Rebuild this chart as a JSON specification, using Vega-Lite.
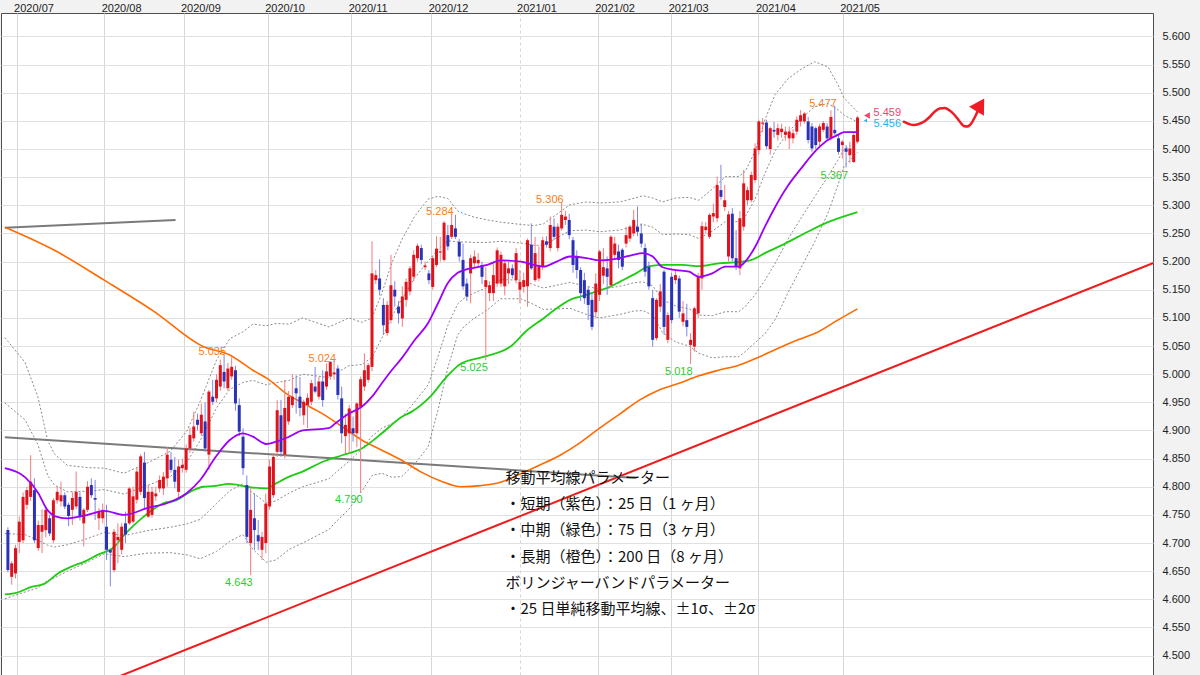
{
"$schema": "https://vega.github.io/schema/vega-lite/v6.json",
"width": 1152, "height": 662,
"autosize": {"type": "none"},
"padding": {"left": 1, "top": 13, "right": 47, "bottom": 0},
"background": "#f2f2f2",
"config": {"view": {"fill": "#ffffff", "stroke": "#4d4d4d", "strokeWidth": 1}, "font": "Liberation Sans"},
"datasets": {
"candles": [
{"k":0,"o":4.723,"h":4.728,"l":4.648,"c":4.652},{"k":1,"o":4.640,"h":4.668,"l":4.626,"c":4.664},{"k":2,"o":4.646,"h":4.697,"l":4.637,"c":4.691},{"k":3,"o":4.702,"h":4.747,"l":4.682,"c":4.738},{"k":4,"o":4.705,"h":4.790,"l":4.700,"c":4.782},{"k":5,"o":4.768,"h":4.800,"l":4.760,"c":4.794},{"k":6,"o":4.782,"h":4.856,"l":4.775,"c":4.809},{"k":7,"o":4.794,"h":4.815,"l":4.700,"c":4.705},{"k":8,"o":4.691,"h":4.740,"l":4.686,"c":4.732},{"k":9,"o":4.720,"h":4.760,"l":4.682,"c":4.732},
{"k":10,"o":4.723,"h":4.765,"l":4.710,"c":4.759},{"k":11,"o":4.744,"h":4.750,"l":4.712,"c":4.717},{"k":12,"o":4.705,"h":4.780,"l":4.700,"c":4.776},{"k":13,"o":4.776,"h":4.800,"l":4.770,"c":4.791},{"k":14,"o":4.774,"h":4.809,"l":4.765,"c":4.785},{"k":15,"o":4.785,"h":4.790,"l":4.760,"c":4.765},{"k":16,"o":4.768,"h":4.772,"l":4.730,"c":4.748},{"k":17,"o":4.759,"h":4.790,"l":4.732,"c":4.780},{"k":18,"o":4.765,"h":4.827,"l":4.760,"c":4.791},{"k":19,"o":4.782,"h":4.790,"l":4.740,"c":4.747},
{"k":20,"o":4.735,"h":4.762,"l":4.694,"c":4.759},{"k":21,"o":4.759,"h":4.810,"l":4.755,"c":4.800},{"k":22,"o":4.803,"h":4.815,"l":4.780,"c":4.785},{"k":23,"o":4.780,"h":4.812,"l":4.741,"c":4.777},{"k":24,"o":4.744,"h":4.762,"l":4.723,"c":4.756},{"k":25,"o":4.744,"h":4.770,"l":4.735,"c":4.759},{"k":26,"o":4.729,"h":4.768,"l":4.670,"c":4.688},{"k":27,"o":4.688,"h":4.690,"l":4.623,"c":4.683},{"k":28,"o":4.652,"h":4.725,"l":4.648,"c":4.720},{"k":29,"o":4.705,"h":4.735,"l":4.664,"c":4.711},
{"k":30,"o":4.688,"h":4.735,"l":4.680,"c":4.729},{"k":31,"o":4.735,"h":4.756,"l":4.700,"c":4.715},{"k":32,"o":4.735,"h":4.800,"l":4.732,"c":4.797},{"k":33,"o":4.738,"h":4.800,"l":4.735,"c":4.783},{"k":34,"o":4.777,"h":4.835,"l":4.770,"c":4.827},{"k":35,"o":4.791,"h":4.858,"l":4.785,"c":4.854},{"k":36,"o":4.843,"h":4.862,"l":4.759,"c":4.780},{"k":37,"o":4.747,"h":4.803,"l":4.745,"c":4.791},{"k":38,"o":4.750,"h":4.800,"l":4.745,"c":4.791},{"k":39,"o":4.783,"h":4.800,"l":4.775,"c":4.788},
{"k":40,"o":4.797,"h":4.820,"l":4.790,"c":4.812},{"k":41,"o":4.797,"h":4.826,"l":4.785,"c":4.818},{"k":42,"o":4.815,"h":4.870,"l":4.800,"c":4.857},{"k":43,"o":4.848,"h":4.862,"l":4.825,"c":4.830},{"k":44,"o":4.830,"h":4.853,"l":4.797,"c":4.809},{"k":45,"o":4.791,"h":4.848,"l":4.780,"c":4.836},{"k":46,"o":4.833,"h":4.850,"l":4.825,"c":4.839},{"k":47,"o":4.830,"h":4.875,"l":4.825,"c":4.868},{"k":48,"o":4.868,"h":4.905,"l":4.860,"c":4.892},{"k":49,"o":4.886,"h":4.933,"l":4.880,"c":4.907},
{"k":50,"o":4.919,"h":4.930,"l":4.900,"c":4.910},{"k":51,"o":4.895,"h":4.948,"l":4.890,"c":4.928},{"k":52,"o":4.916,"h":4.950,"l":4.862,"c":4.868},{"k":53,"o":4.857,"h":4.972,"l":4.830,"c":4.969},{"k":54,"o":4.960,"h":4.990,"l":4.945,"c":4.951},{"k":55,"o":4.957,"h":5.000,"l":4.950,"c":4.990},{"k":56,"o":4.978,"h":5.026,"l":4.970,"c":5.016},{"k":57,"o":5.004,"h":5.035,"l":4.975,"c":4.987},{"k":58,"o":4.975,"h":5.020,"l":4.970,"c":5.010},{"k":59,"o":4.996,"h":5.030,"l":4.990,"c":5.013},
{"k":60,"o":5.007,"h":5.015,"l":4.935,"c":4.948},{"k":61,"o":4.945,"h":4.957,"l":4.890,"c":4.898},{"k":62,"o":4.889,"h":4.904,"l":4.821,"c":4.833},{"k":63,"o":4.803,"h":4.820,"l":4.700,"c":4.711},{"k":64,"o":4.700,"h":4.797,"l":4.643,"c":4.759},{"k":65,"o":4.744,"h":4.788,"l":4.688,"c":4.723},{"k":66,"o":4.714,"h":4.741,"l":4.688,"c":4.703},{"k":67,"o":4.688,"h":4.720,"l":4.670,"c":4.711},{"k":68,"o":4.700,"h":4.788,"l":4.682,"c":4.770},{"k":69,"o":4.765,"h":4.848,"l":4.759,"c":4.836},
{"k":70,"o":4.785,"h":4.860,"l":4.780,"c":4.853},{"k":71,"o":4.862,"h":4.954,"l":4.853,"c":4.936},{"k":72,"o":4.927,"h":4.954,"l":4.853,"c":4.862},{"k":73,"o":4.857,"h":4.990,"l":4.850,"c":4.940},{"k":74,"o":4.916,"h":4.970,"l":4.910,"c":4.960},{"k":75,"o":4.945,"h":5.000,"l":4.940,"c":4.960},{"k":76,"o":4.975,"h":4.998,"l":4.930,"c":4.966},{"k":77,"o":4.960,"h":4.995,"l":4.925,"c":4.940},{"k":78,"o":4.927,"h":4.955,"l":4.910,"c":4.951},{"k":79,"o":4.945,"h":4.966,"l":4.904,"c":4.958},
{"k":80,"o":4.951,"h":4.990,"l":4.945,"c":4.984},{"k":81,"o":4.978,"h":5.013,"l":4.966,"c":4.969},{"k":82,"o":4.960,"h":4.995,"l":4.955,"c":4.987},{"k":83,"o":4.987,"h":5.007,"l":4.942,"c":4.954},{"k":84,"o":4.978,"h":5.019,"l":4.972,"c":5.005},{"k":85,"o":4.996,"h":5.023,"l":4.990,"c":5.022},{"k":86,"o":5.000,"h":5.024,"l":4.990,"c":5.003},{"k":87,"o":5.010,"h":5.016,"l":4.955,"c":4.963},{"k":88,"o":4.957,"h":4.978,"l":4.877,"c":4.895},{"k":89,"o":4.890,"h":4.930,"l":4.859,"c":4.910},
{"k":90,"o":4.895,"h":4.945,"l":4.859,"c":4.939},{"k":91,"o":4.904,"h":4.925,"l":4.880,"c":4.895},{"k":92,"o":4.895,"h":4.950,"l":4.870,"c":4.948},{"k":93,"o":4.942,"h":4.996,"l":4.790,"c":4.991},{"k":94,"o":4.978,"h":5.037,"l":4.970,"c":5.007},{"k":95,"o":4.990,"h":5.020,"l":4.985,"c":5.016},{"k":96,"o":5.013,"h":5.236,"l":5.005,"c":5.179},{"k":97,"o":5.167,"h":5.185,"l":5.160,"c":5.176},{"k":98,"o":5.170,"h":5.204,"l":5.140,"c":5.150},{"k":99,"o":5.123,"h":5.135,"l":5.070,"c":5.087},
{"k":100,"o":5.073,"h":5.130,"l":5.068,"c":5.123},{"k":101,"o":5.096,"h":5.212,"l":5.090,"c":5.158},{"k":102,"o":5.150,"h":5.165,"l":5.120,"c":5.138},{"k":103,"o":5.120,"h":5.130,"l":5.090,"c":5.108},{"k":104,"o":5.099,"h":5.156,"l":5.084,"c":5.138},{"k":105,"o":5.132,"h":5.170,"l":5.120,"c":5.164},{"k":106,"o":5.147,"h":5.192,"l":5.140,"c":5.188},{"k":107,"o":5.173,"h":5.220,"l":5.165,"c":5.212},{"k":108,"o":5.206,"h":5.232,"l":5.200,"c":5.228},{"k":109,"o":5.224,"h":5.230,"l":5.195,"c":5.203},
{"k":110,"o":5.190,"h":5.200,"l":5.185,"c":5.193},{"k":111,"o":5.179,"h":5.185,"l":5.160,"c":5.167},{"k":112,"o":5.155,"h":5.210,"l":5.150,"c":5.206},{"k":113,"o":5.194,"h":5.245,"l":5.190,"c":5.223},{"k":114,"o":5.216,"h":5.244,"l":5.200,"c":5.218},{"k":115,"o":5.203,"h":5.272,"l":5.200,"c":5.269},{"k":116,"o":5.247,"h":5.265,"l":5.220,"c":5.227},{"k":117,"o":5.244,"h":5.284,"l":5.240,"c":5.265},{"k":118,"o":5.259,"h":5.283,"l":5.240,"c":5.244},{"k":119,"o":5.235,"h":5.240,"l":5.200,"c":5.209},
{"k":120,"o":5.203,"h":5.232,"l":5.150,"c":5.156},{"k":121,"o":5.161,"h":5.170,"l":5.130,"c":5.138},{"k":122,"o":5.179,"h":5.212,"l":5.126,"c":5.206},{"k":123,"o":5.197,"h":5.220,"l":5.190,"c":5.209},{"k":124,"o":5.197,"h":5.215,"l":5.190,"c":5.203},{"k":125,"o":5.194,"h":5.200,"l":5.160,"c":5.173},{"k":126,"o":5.155,"h":5.190,"l":5.025,"c":5.167},{"k":127,"o":5.144,"h":5.165,"l":5.130,"c":5.158},{"k":128,"o":5.144,"h":5.200,"l":5.130,"c":5.176},{"k":129,"o":5.161,"h":5.225,"l":5.155,"c":5.220},
{"k":130,"o":5.161,"h":5.218,"l":5.155,"c":5.212},{"k":131,"o":5.156,"h":5.203,"l":5.140,"c":5.197},{"k":132,"o":5.179,"h":5.200,"l":5.160,"c":5.188},{"k":133,"o":5.188,"h":5.195,"l":5.170,"c":5.176},{"k":134,"o":5.167,"h":5.224,"l":5.161,"c":5.215},{"k":135,"o":5.150,"h":5.185,"l":5.126,"c":5.164},{"k":136,"o":5.155,"h":5.180,"l":5.145,"c":5.167},{"k":137,"o":5.156,"h":5.241,"l":5.120,"c":5.238},{"k":138,"o":5.230,"h":5.268,"l":5.185,"c":5.188},{"k":139,"o":5.167,"h":5.244,"l":5.164,"c":5.215},
{"k":140,"o":5.170,"h":5.227,"l":5.165,"c":5.191},{"k":141,"o":5.191,"h":5.244,"l":5.185,"c":5.238},{"k":142,"o":5.236,"h":5.245,"l":5.225,"c":5.230},{"k":143,"o":5.224,"h":5.280,"l":5.218,"c":5.265},{"k":144,"o":5.262,"h":5.277,"l":5.238,"c":5.244},{"k":145,"o":5.224,"h":5.268,"l":5.218,"c":5.262},{"k":146,"o":5.259,"h":5.306,"l":5.255,"c":5.283},{"k":147,"o":5.274,"h":5.290,"l":5.265,"c":5.280},{"k":148,"o":5.274,"h":5.285,"l":5.240,"c":5.247},{"k":149,"o":5.238,"h":5.244,"l":5.180,"c":5.194},
{"k":150,"o":5.209,"h":5.220,"l":5.170,"c":5.185},{"k":151,"o":5.185,"h":5.190,"l":5.130,"c":5.144},{"k":152,"o":5.167,"h":5.180,"l":5.125,"c":5.135},{"k":153,"o":5.150,"h":5.156,"l":5.096,"c":5.123},{"k":154,"o":5.132,"h":5.144,"l":5.078,"c":5.084},{"k":155,"o":5.110,"h":5.179,"l":5.100,"c":5.161},{"k":156,"o":5.141,"h":5.221,"l":5.130,"c":5.218},{"k":157,"o":5.175,"h":5.224,"l":5.160,"c":5.190},{"k":158,"o":5.188,"h":5.209,"l":5.141,"c":5.173},{"k":159,"o":5.158,"h":5.247,"l":5.156,"c":5.244},
{"k":160,"o":5.212,"h":5.244,"l":5.205,"c":5.232},{"k":161,"o":5.218,"h":5.230,"l":5.188,"c":5.203},{"k":162,"o":5.221,"h":5.224,"l":5.185,"c":5.191},{"k":163,"o":5.232,"h":5.262,"l":5.225,"c":5.247},{"k":164,"o":5.241,"h":5.265,"l":5.235,"c":5.262},{"k":165,"o":5.250,"h":5.292,"l":5.245,"c":5.274},{"k":166,"o":5.262,"h":5.298,"l":5.245,"c":5.253},{"k":167,"o":5.250,"h":5.268,"l":5.225,"c":5.232},{"k":168,"o":5.224,"h":5.232,"l":5.173,"c":5.182},{"k":169,"o":5.191,"h":5.200,"l":5.150,"c":5.156},
{"k":170,"o":5.135,"h":5.150,"l":5.049,"c":5.061},{"k":171,"o":5.064,"h":5.135,"l":5.060,"c":5.132},{"k":172,"o":5.120,"h":5.160,"l":5.110,"c":5.147},{"k":173,"o":5.182,"h":5.185,"l":5.070,"c":5.084},{"k":174,"o":5.061,"h":5.110,"l":5.055,"c":5.105},{"k":175,"o":5.173,"h":5.180,"l":5.090,"c":5.096},{"k":176,"o":5.167,"h":5.185,"l":5.160,"c":5.176},{"k":177,"o":5.170,"h":5.175,"l":5.100,"c":5.111},{"k":178,"o":5.093,"h":5.130,"l":5.085,"c":5.108},{"k":179,"o":5.096,"h":5.125,"l":5.067,"c":5.084},
{"k":180,"o":5.052,"h":5.073,"l":5.018,"c":5.061},{"k":181,"o":5.049,"h":5.120,"l":5.040,"c":5.117},{"k":182,"o":5.108,"h":5.180,"l":5.100,"c":5.173},{"k":183,"o":5.170,"h":5.271,"l":5.150,"c":5.263},{"k":184,"o":5.256,"h":5.270,"l":5.250,"c":5.262},{"k":185,"o":5.244,"h":5.286,"l":5.240,"c":5.283},{"k":186,"o":5.280,"h":5.303,"l":5.270,"c":5.286},{"k":187,"o":5.277,"h":5.351,"l":5.270,"c":5.336},{"k":188,"o":5.327,"h":5.372,"l":5.310,"c":5.315},{"k":189,"o":5.297,"h":5.336,"l":5.290,"c":5.309},
{"k":190,"o":5.209,"h":5.290,"l":5.200,"c":5.284},{"k":191,"o":5.285,"h":5.295,"l":5.200,"c":5.206},{"k":192,"o":5.206,"h":5.256,"l":5.185,"c":5.191},{"k":193,"o":5.188,"h":5.290,"l":5.176,"c":5.277},{"k":194,"o":5.262,"h":5.363,"l":5.255,"c":5.339},{"k":195,"o":5.309,"h":5.333,"l":5.300,"c":5.327},{"k":196,"o":5.309,"h":5.360,"l":5.305,"c":5.354},{"k":197,"o":5.345,"h":5.410,"l":5.340,"c":5.401},{"k":198,"o":5.398,"h":5.452,"l":5.390,"c":5.449},{"k":199,"o":5.445,"h":5.455,"l":5.430,"c":5.447},
{"k":200,"o":5.447,"h":5.452,"l":5.400,"c":5.405},{"k":201,"o":5.400,"h":5.440,"l":5.390,"c":5.437},{"k":202,"o":5.434,"h":5.448,"l":5.420,"c":5.431},{"k":203,"o":5.425,"h":5.445,"l":5.415,"c":5.437},{"k":204,"o":5.430,"h":5.445,"l":5.420,"c":5.436},{"k":205,"o":5.425,"h":5.440,"l":5.415,"c":5.431},{"k":206,"o":5.419,"h":5.440,"l":5.400,"c":5.431},{"k":207,"o":5.419,"h":5.435,"l":5.410,"c":5.428},{"k":208,"o":5.431,"h":5.458,"l":5.425,"c":5.452},{"k":209,"o":5.449,"h":5.469,"l":5.440,"c":5.460},
{"k":210,"o":5.449,"h":5.466,"l":5.445,"c":5.463},{"k":211,"o":5.449,"h":5.457,"l":5.410,"c":5.416},{"k":212,"o":5.440,"h":5.446,"l":5.395,"c":5.401},{"k":213,"o":5.437,"h":5.440,"l":5.400,"c":5.407},{"k":214,"o":5.413,"h":5.445,"l":5.405,"c":5.440},{"k":215,"o":5.434,"h":5.450,"l":5.430,"c":5.446},{"k":216,"o":5.440,"h":5.446,"l":5.415,"c":5.419},{"k":217,"o":5.419,"h":5.469,"l":5.415,"c":5.457},{"k":218,"o":5.434,"h":5.477,"l":5.425,"c":5.428},{"k":219,"o":5.419,"h":5.425,"l":5.390,"c":5.395},
{"k":220,"o":5.407,"h":5.416,"l":5.383,"c":5.413},{"k":221,"o":5.401,"h":5.407,"l":5.367,"c":5.395},{"k":222,"o":5.389,"h":5.413,"l":5.375,"c":5.401},{"k":223,"o":5.377,"h":5.428,"l":5.375,"c":5.425},{"k":224,"o":5.413,"h":5.459,"l":5.410,"c":5.456}
],
"bb": [
{"k":-0.8,"u2":5.065,"u1":4.949,"l1":4.717,"l2":4.601},{"k":4.5,"u2":5.021,"u1":4.919,"l1":4.715,"l2":4.613},{"k":7.9,"u2":4.960,"u1":4.875,"l1":4.705,"l2":4.620},{"k":10.5,"u2":4.882,"u1":4.820,"l1":4.696,"l2":4.634},{"k":12.3,"u2":4.858,"u1":4.803,"l1":4.693,"l2":4.638},{"k":15.7,"u2":4.838,"u1":4.791,"l1":4.697,"l2":4.650},{"k":21,"u2":4.834,"u1":4.792,"l1":4.708,"l2":4.666},{"k":25.4,"u2":4.833,"u1":4.795,"l1":4.719,"l2":4.681},{"k":30.6,"u2":4.824,"u1":4.787,"l1":4.713,"l2":4.676},{"k":36.7,"u2":4.842,"u1":4.802,"l1":4.722,"l2":4.682},
{"k":42.8,"u2":4.863,"u1":4.818,"l1":4.728,"l2":4.683},{"k":47.2,"u2":4.899,"u1":4.844,"l1":4.734,"l2":4.679},{"k":50.7,"u2":4.952,"u1":4.882,"l1":4.742,"l2":4.672},{"k":55,"u2":5.025,"u1":4.940,"l1":4.770,"l2":4.685},{"k":58.5,"u2":5.063,"u1":4.973,"l1":4.793,"l2":4.703},{"k":61.9,"u2":5.075,"u1":4.985,"l1":4.805,"l2":4.715},{"k":64.6,"u2":5.089,"u1":4.989,"l1":4.789,"l2":4.689},{"k":68.1,"u2":5.086,"u1":4.981,"l1":4.771,"l2":4.666},{"k":70.7,"u2":5.090,"u1":4.985,"l1":4.775,"l2":4.670},{"k":74.2,"u2":5.089,"u1":4.989,"l1":4.789,"l2":4.689},
{"k":77.7,"u2":5.100,"u1":5.000,"l1":4.800,"l2":4.700},{"k":84.6,"u2":5.084,"u1":4.994,"l1":4.814,"l2":4.724},{"k":86.4,"u2":5.089,"u1":5.001,"l1":4.825,"l2":4.737},{"k":89.9,"u2":5.100,"u1":5.015,"l1":4.845,"l2":4.760},{"k":93.3,"u2":5.092,"u1":5.017,"l1":4.867,"l2":4.792},{"k":96,"u2":5.100,"u1":5.030,"l1":4.890,"l2":4.820},{"k":98.6,"u2":5.144,"u1":5.064,"l1":4.904,"l2":4.824},{"k":101.2,"u2":5.197,"u1":5.102,"l1":4.912,"l2":4.817},{"k":103.8,"u2":5.238,"u1":5.133,"l1":4.923,"l2":4.818},{"k":107.3,"u2":5.281,"u1":5.171,"l1":4.951,"l2":4.841},
{"k":110.8,"u2":5.311,"u1":5.201,"l1":4.981,"l2":4.871},{"k":113.4,"u2":5.316,"u1":5.221,"l1":5.031,"l2":4.936},{"k":116,"u2":5.312,"u1":5.237,"l1":5.087,"l2":5.012},{"k":118.6,"u2":5.290,"u1":5.235,"l1":5.125,"l2":5.070},{"k":120.3,"u2":5.285,"u1":5.235,"l1":5.135,"l2":5.085},{"k":122.9,"u2":5.279,"u1":5.234,"l1":5.144,"l2":5.099},{"k":126.4,"u2":5.274,"u1":5.234,"l1":5.154,"l2":5.114},{"k":129.9,"u2":5.270,"u1":5.236,"l1":5.168,"l2":5.134},{"k":135.2,"u2":5.266,"u1":5.233,"l1":5.167,"l2":5.134},{"k":138.6,"u2":5.264,"u1":5.229,"l1":5.159,"l2":5.124},
{"k":141.2,"u2":5.267,"u1":5.229,"l1":5.153,"l2":5.115},{"k":144.7,"u2":5.284,"u1":5.242,"l1":5.158,"l2":5.116},{"k":148.2,"u2":5.301,"u1":5.255,"l1":5.163,"l2":5.117},{"k":152.6,"u2":5.306,"u1":5.256,"l1":5.156,"l2":5.106},{"k":156,"u2":5.304,"u1":5.253,"l1":5.151,"l2":5.100},{"k":161.3,"u2":5.306,"u1":5.256,"l1":5.156,"l2":5.106},{"k":164.8,"u2":5.312,"u1":5.262,"l1":5.162,"l2":5.112},{"k":167.4,"u2":5.317,"u1":5.266,"l1":5.164,"l2":5.113},{"k":170,"u2":5.313,"u1":5.261,"l1":5.157,"l2":5.105},{"k":172.6,"u2":5.306,"u1":5.248,"l1":5.132,"l2":5.074},
{"k":176.1,"u2":5.313,"u1":5.249,"l1":5.121,"l2":5.057},{"k":179.6,"u2":5.314,"u1":5.248,"l1":5.116,"l2":5.050},{"k":182.2,"u2":5.309,"u1":5.241,"l1":5.105,"l2":5.037},{"k":185.7,"u2":5.329,"u1":5.254,"l1":5.104,"l2":5.029},{"k":189.2,"u2":5.351,"u1":5.271,"l1":5.111,"l2":5.031},{"k":192.7,"u2":5.351,"u1":5.271,"l1":5.111,"l2":5.031},{"k":194.4,"u2":5.360,"u1":5.280,"l1":5.120,"l2":5.040},{"k":197,"u2":5.396,"u1":5.311,"l1":5.141,"l2":5.056},{"k":199.6,"u2":5.452,"u1":5.357,"l1":5.167,"l2":5.072},{"k":202.3,"u2":5.497,"u1":5.397,"l1":5.197,"l2":5.097},
{"k":205.7,"u2":5.525,"u1":5.430,"l1":5.240,"l2":5.145},{"k":209.2,"u2":5.542,"u1":5.454,"l1":5.278,"l2":5.190},{"k":212.7,"u2":5.555,"u1":5.475,"l1":5.315,"l2":5.235},{"k":216.2,"u2":5.546,"u1":5.481,"l1":5.351,"l2":5.286},{"k":218.8,"u2":5.515,"u1":5.470,"l1":5.380,"l2":5.335},{"k":220.5,"u2":5.490,"u1":5.460,"l1":5.400,"l2":5.370},{"k":224,"u2":5.466,"u1":5.448,"l1":5.412,"l2":5.394}
],
"ma25": [
{"k":-0.8,"v":4.833},{"k":4.5,"v":4.817},{"k":7.9,"v":4.790},{"k":10.5,"v":4.758},{"k":12.3,"v":4.748},{"k":15.7,"v":4.744},{"k":21,"v":4.750},{"k":25.4,"v":4.757},{"k":30.6,"v":4.750},{"k":36.7,"v":4.762},{"k":42.8,"v":4.773},{"k":47.2,"v":4.789},{"k":50.7,"v":4.812},{"k":55,"v":4.855},{"k":58.5,"v":4.883},{"k":61.9,"v":4.895},{"k":64.6,"v":4.889},{"k":68.1,"v":4.876},{"k":70.7,"v":4.880},{"k":74.2,"v":4.889},{"k":77.7,"v":4.900},{"k":84.6,"v":4.904},{"k":86.4,"v":4.913},{"k":89.9,"v":4.930},{"k":93.3,"v":4.942},{"k":96,"v":4.960},{"k":98.6,"v":4.984},{"k":101.2,"v":5.007},{"k":103.8,"v":5.028},{"k":107.3,"v":5.061},{"k":110.8,"v":5.091},{"k":113.4,"v":5.126},{"k":116,"v":5.162},{"k":118.6,"v":5.180},{"k":120.3,"v":5.185},{"k":122.9,"v":5.189},{"k":126.4,"v":5.194},{"k":129.9,"v":5.202},{"k":135.2,"v":5.200},{"k":138.6,"v":5.194},{"k":141.2,"v":5.191},{"k":144.7,"v":5.200},{"k":148.2,"v":5.209},{"k":152.6,"v":5.206},{"k":156,"v":5.202},{"k":161.3,"v":5.206},{"k":164.8,"v":5.212},{"k":167.4,"v":5.215},{"k":170,"v":5.209},{"k":172.6,"v":5.190},{"k":176.1,"v":5.185},{"k":179.6,"v":5.182},{"k":182.2,"v":5.173},{"k":185.7,"v":5.179},{"k":189.2,"v":5.191},{"k":192.7,"v":5.191},{"k":194.4,"v":5.200},{"k":197,"v":5.226},{"k":199.6,"v":5.262},{"k":202.3,"v":5.297},{"k":205.7,"v":5.335},{"k":209.2,"v":5.366},{"k":212.7,"v":5.395},{"k":216.2,"v":5.416},{"k":218.8,"v":5.425},{"k":220.5,"v":5.430},{"k":224,"v":5.430}
],
"ma75": [
{"k":-0.8,"v":4.609},{"k":1.9,"v":4.611},{"k":6.2,"v":4.622},{"k":9.7,"v":4.628},{"k":13.2,"v":4.646},{"k":16.7,"v":4.658},{"k":20.2,"v":4.667},{"k":23.6,"v":4.679},{"k":28,"v":4.693},{"k":30.6,"v":4.714},{"k":35.8,"v":4.747},{"k":41.1,"v":4.771},{"k":44.5,"v":4.776},{"k":48,"v":4.791},{"k":51.5,"v":4.800},{"k":54.1,"v":4.801},{"k":58.5,"v":4.805},{"k":62.8,"v":4.800},{"k":68.1,"v":4.797},{"k":70.7,"v":4.806},{"k":74.2,"v":4.818},{"k":77.7,"v":4.827},{"k":82.9,"v":4.844},{"k":88.1,"v":4.856},{"k":93.3,"v":4.868},{"k":98.6,"v":4.895},{"k":103.8,"v":4.924},{"k":106.4,"v":4.933},{"k":111.6,"v":4.962},{"k":115.5,"v":4.994},{"k":119.5,"v":5.019},{"k":125.6,"v":5.031},{"k":132.5,"v":5.049},{"k":136.9,"v":5.078},{"k":141.2,"v":5.099},{"k":144.7,"v":5.117},{"k":148.2,"v":5.132},{"k":151.7,"v":5.139},{"k":155.2,"v":5.147},{"k":158.7,"v":5.155},{"k":161.3,"v":5.164},{"k":165.6,"v":5.179},{"k":169.1,"v":5.192},{"k":173.5,"v":5.194},{"k":177.8,"v":5.194},{"k":182.2,"v":5.192},{"k":187.4,"v":5.197},{"k":192.7,"v":5.199},{"k":196.1,"v":5.203},{"k":199.6,"v":5.215},{"k":204.9,"v":5.232},{"k":210.9,"v":5.253},{"k":216.2,"v":5.270},{"k":224,"v":5.288}
],
"ma200": [
{"k":-0.8,"v":5.261},{"k":12.3,"v":5.220},{"k":25.4,"v":5.167},{"k":38.4,"v":5.112},{"k":51.5,"v":5.049},{"k":58.5,"v":5.034},{"k":64.6,"v":5.007},{"k":68.9,"v":4.990},{"k":73.3,"v":4.966},{"k":77.7,"v":4.949},{"k":82.9,"v":4.930},{"k":88.1,"v":4.907},{"k":93.3,"v":4.883},{"k":98.6,"v":4.865},{"k":103.8,"v":4.847},{"k":109,"v":4.826},{"k":114.2,"v":4.810},{"k":119.5,"v":4.800},{"k":124.7,"v":4.802},{"k":129.9,"v":4.808},{"k":135.2,"v":4.823},{"k":140.4,"v":4.839},{"k":145.6,"v":4.856},{"k":150.8,"v":4.878},{"k":156,"v":4.904},{"k":161.3,"v":4.929},{"k":166.5,"v":4.954},{"k":171.7,"v":4.972},{"k":177,"v":4.984},{"k":182.2,"v":4.997},{"k":187.4,"v":5.007},{"k":192.7,"v":5.016},{"k":197.9,"v":5.030},{"k":203.1,"v":5.046},{"k":208.3,"v":5.061},{"k":213.6,"v":5.075},{"k":218.8,"v":5.096},{"k":224,"v":5.116}
],
"gray": [{"k":-0.8,"v":5.260,"g":"a"},{"k":44.2,"v":5.274,"g":"a"},{"k":-0.8,"v":4.888,"g":"b"},{"k":165.7,"v":4.8155,"g":"b"}],
"redline": [{"k":20,"v":4.438},{"k":310,"v":5.219}],
"hi": [{"k":57,"v":5.035},{"k":86,"v":5.024},{"k":117,"v":5.284},{"k":146,"v":5.306},{"k":218,"v":5.477}],
"lo": [{"k":64,"v":4.643},{"k":93,"v":4.790},{"k":126,"v":5.025},{"k":180,"v":5.018},{"k":221,"v":5.367}],
"ask": [{"k":224,"v":5.459}],
"bid": [{"k":224,"v":5.456}],
"askmark": [{"k":226.5,"v":5.4595}],
"bidmark": [{"k":226.1,"v":5.4506}],
"wave": [{"k":236.2,"v":5.4485},{"k":237.6,"v":5.4444},{"k":238.8,"v":5.4426},{"k":240.2,"v":5.4444},{"k":241.8,"v":5.4497},{"k":243.1,"v":5.4574},{"k":244.4,"v":5.4666},{"k":245.7,"v":5.472},{"k":247.0,"v":5.4728},{"k":248.3,"v":5.4684},{"k":249.6,"v":5.4604},{"k":251.0,"v":5.4485},{"k":252.0,"v":5.4409},{"k":253.0,"v":5.44},{"k":254.1,"v":5.4462},{"k":255.1,"v":5.4586},{"k":256.0,"v":5.4720}],
"head": [{"k":256.4,"v":5.4785}],
"note": [{"k":131.2,"v":4.8283,"t":["移動平均線パラメーター","・短期（紫色）：25 日（1 ヶ月）","・中期（緑色）：75 日（3 ヶ月）","・長期（橙色）：200 日（8 ヶ月）","ボリンジャーバンドパラメーター","・25 日単純移動平均線、±1σ、±2σ"]}]
},
"encoding": {"x": {"field": "k", "type": "quantitative", "title": null, "scale": {"domain": [-0.5, 300.6], "nice": false, "zero": false}}},
"layer": [
{"data": {"name": "bb"}, "transform": [{"fold": ["u2", "u1", "l1", "l2"], "as": ["b", "v"]}],
 "mark": {"type": "line", "color": "#8a8a8a", "strokeWidth": 1, "strokeDash": [2, 2], "clip": true},
 "encoding": {
  "x": {"field": "k", "type": "quantitative", "title": null, "scale": {"domain": [-0.5, 300.6], "nice": false, "zero": false},
   "axis": {"orient": "top", "title": null, "values": [2.3, 25.4, 46.3, 68.5, 90.5, 111.6, 134.9, 155.5, 174.9, 197.9, 220.1],
    "labelExpr": "datum.value < 10 ? '2020/07' : datum.value < 30 ? '2020/08' : datum.value < 50 ? '2020/09' : datum.value < 80 ? '2020/10' : datum.value < 100 ? '2020/11' : datum.value < 120 ? '2020/12' : datum.value < 140 ? '2021/01' : datum.value < 160 ? '2021/02' : datum.value < 180 ? '2021/03' : datum.value < 210 ? '2021/04' : '2021/05'",
    "ticks": false, "domain": false, "grid": true, "gridColor": "#d6d6d6",
    "gridDash": {"condition": {"test": "datum.value > 130 && datum.value < 140", "value": [3, 3]}, "value": []},
    "labelAlign": "left", "labelOffset": -3, "labelPadding": 1.5, "labelBaseline": "alphabetic", "labelFontSize": 11, "labelColor": "#222222", "labelFlush": false, "labelOverlap": false}},
  "y": {"field": "v", "type": "quantitative", "title": null, "scale": {"domain": [4.4656, 5.6416], "nice": false, "zero": false},
   "axis": {"orient": "right", "title": null, "values": [4.5, 4.55, 4.6, 4.65, 4.7, 4.75, 4.8, 4.85, 4.9, 4.95, 5, 5.05, 5.1, 5.15, 5.2, 5.25, 5.3, 5.35, 5.4, 5.45, 5.5, 5.55, 5.6], "tickCount": 24,
    "format": ".3f", "ticks": false, "domain": false, "grid": true, "gridColor": "#e0e0e0", "labelPadding": 9, "labelFontSize": 11, "labelColor": "#222222", "labelAlign": "left", "labelBaseline": "middle", "labelOverlap": false, "labelFlush": false}},
  "detail": {"field": "b", "type": "nominal"}}},
{"data": {"name": "redline"}, "mark": {"type": "line", "color": "#ee1c1c", "strokeWidth": 2, "clip": true},
 "encoding": {"y": {"field": "v", "type": "quantitative", "title": null, "scale": {"domain": [4.4656, 5.6416], "nice": false, "zero": false}}}},
{"data": {"name": "gray"}, "mark": {"type": "line", "color": "#7a7a7a", "strokeWidth": 2, "clip": true},
 "encoding": {"y": {"field": "v", "type": "quantitative", "title": null, "scale": {"domain": [4.4656, 5.6416], "nice": false, "zero": false}}, "detail": {"field": "g", "type": "nominal"}}},
{"data": {"name": "ma200"}, "mark": {"type": "line", "color": "#ff6a00", "strokeWidth": 1.6, "clip": true, "interpolate": "monotone"},
 "encoding": {"y": {"field": "v", "type": "quantitative", "title": null, "scale": {"domain": [4.4656, 5.6416], "nice": false, "zero": false}}}},
{"data": {"name": "ma75"}, "mark": {"type": "line", "color": "#1fcc14", "strokeWidth": 1.8, "clip": true, "interpolate": "monotone"},
 "encoding": {"y": {"field": "v", "type": "quantitative", "title": null, "scale": {"domain": [4.4656, 5.6416], "nice": false, "zero": false}}}},
{"data": {"name": "candles"}, "mark": {"type": "rule", "strokeWidth": 1, "clip": true},
 "encoding": {"y": {"field": "l", "type": "quantitative", "title": null, "scale": {"domain": [4.4656, 5.6416], "nice": false, "zero": false}}, "y2": {"field": "h"},
  "color": {"condition": {"test": "datum.c >= datum.o", "value": "#f27d7d"}, "value": "#7d86e6"}}},
{"data": {"name": "candles"}, "mark": {"type": "bar", "size": 3, "orient": "vertical", "clip": true},
 "encoding": {"y": {"field": "o", "type": "quantitative", "title": null, "scale": {"domain": [4.4656, 5.6416], "nice": false, "zero": false}}, "y2": {"field": "c"},
  "color": {"condition": {"test": "datum.c >= datum.o", "value": "#e0121c"}, "value": "#2a32b8"}}},
{"data": {"name": "ma25"}, "mark": {"type": "line", "color": "#9b00ff", "strokeWidth": 1.8, "clip": true, "interpolate": "monotone"},
 "encoding": {"y": {"field": "v", "type": "quantitative", "title": null, "scale": {"domain": [4.4656, 5.6416], "nice": false, "zero": false}}}},
{"data": {"name": "hi"}, "mark": {"type": "text", "align": "right", "baseline": "alphabetic", "dx": 2, "dy": 1, "fontSize": 11, "color": "#f5801e"},
 "encoding": {"y": {"field": "v", "type": "quantitative", "title": null, "scale": {"domain": [4.4656, 5.6416], "nice": false, "zero": false}}, "text": {"field": "v", "type": "quantitative", "format": ".3f"}}},
{"data": {"name": "lo"}, "mark": {"type": "text", "align": "right", "baseline": "top", "dx": 2, "dy": 2, "fontSize": 11, "color": "#2dcc2d"},
 "encoding": {"y": {"field": "v", "type": "quantitative", "title": null, "scale": {"domain": [4.4656, 5.6416], "nice": false, "zero": false}}, "text": {"field": "v", "type": "quantitative", "format": ".3f"}}},
{"data": {"name": "ask"}, "mark": {"type": "text", "align": "left", "baseline": "alphabetic", "dx": 16, "dy": 0, "fontSize": 11, "color": "#f2456e"},
 "encoding": {"y": {"field": "v", "type": "quantitative", "title": null, "scale": {"domain": [4.4656, 5.6416], "nice": false, "zero": false}}, "text": {"field": "v", "type": "quantitative", "format": ".3f"}}},
{"data": {"name": "bid"}, "mark": {"type": "text", "align": "left", "baseline": "top", "dx": 16, "dy": 1, "fontSize": 11, "color": "#22b4ee"},
 "encoding": {"y": {"field": "v", "type": "quantitative", "title": null, "scale": {"domain": [4.4656, 5.6416], "nice": false, "zero": false}}, "text": {"field": "v", "type": "quantitative", "format": ".3f"}}},
{"data": {"name": "askmark"}, "mark": {"type": "point", "shape": "triangle-left", "filled": true, "size": 45, "color": "#f2456e", "opacity": 1},
 "encoding": {"y": {"field": "v", "type": "quantitative", "title": null, "scale": {"domain": [4.4656, 5.6416], "nice": false, "zero": false}}}},
{"data": {"name": "bidmark"}, "mark": {"type": "point", "shape": "triangle-left", "filled": true, "size": 14, "color": "#22b4ee", "opacity": 1},
 "encoding": {"y": {"field": "v", "type": "quantitative", "title": null, "scale": {"domain": [4.4656, 5.6416], "nice": false, "zero": false}}}},
{"data": {"name": "wave"}, "mark": {"type": "line", "color": "#ee1c25", "strokeWidth": 2.5, "interpolate": "monotone", "strokeCap": "round"},
 "encoding": {"y": {"field": "v", "type": "quantitative", "title": null, "scale": {"domain": [4.4656, 5.6416], "nice": false, "zero": false}}}},
{"data": {"name": "head"}, "mark": {"type": "point", "shape": "triangle-up", "filled": true, "size": 300, "angle": 31, "color": "#ee1c25", "opacity": 1},
 "encoding": {"y": {"field": "v", "type": "quantitative", "title": null, "scale": {"domain": [4.4656, 5.6416], "nice": false, "zero": false}}}},
{"data": {"name": "note"}, "mark": {"type": "text", "align": "left", "baseline": "top", "font": "Noto Sans CJK JP", "fontSize": 15, "lineHeight": 26.3, "color": "#111111"},
 "encoding": {"y": {"field": "v", "type": "quantitative", "title": null, "scale": {"domain": [4.4656, 5.6416], "nice": false, "zero": false}}, "text": {"field": "t"}}}
]
}
